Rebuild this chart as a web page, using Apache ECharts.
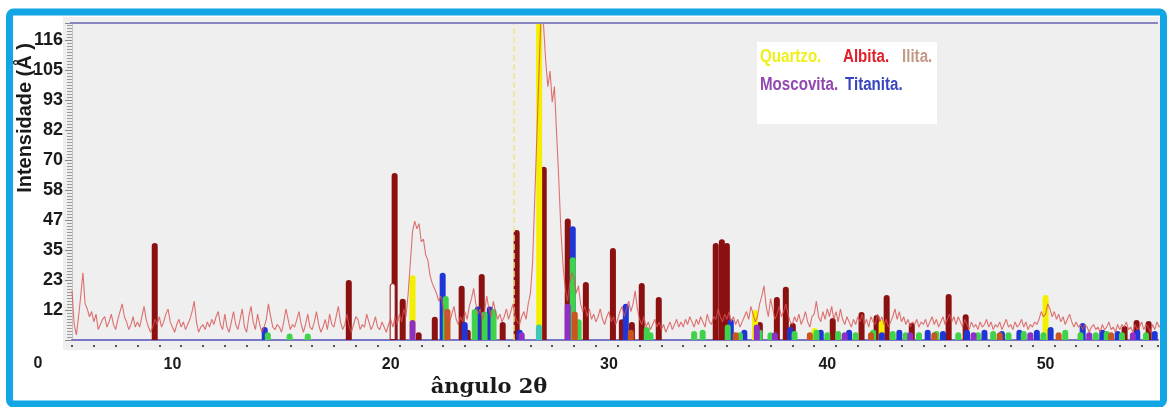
<!DOCTYPE html>
<html>
<head>
<meta charset="utf-8">
<script src="https://cdn.jsdelivr.net/npm/echarts@6/dist/echarts.min.js"></script>
<style>
html,body{margin:0;padding:0;background:#ffffff;}
#chart{width:1170px;height:407px;}
</style>
</head>
<body>
<div id="chart"></div>
<script>
// ---- Data ----
// Diffraction pattern (red line): intensities every 0.1 degree starting at 5.4
const angleStart = 5.4;
const angleStep = 0.1;
const intensity = [
 19,6,2,9,17,26,14,12,9,11,
 7,10,4,6,8,9,5,7,10,6,
 4,8,11,14,9,7,4,6,9,5,
 7,5,9,13,8,5,3,5,8,6,
 9,5,7,10,12,7,5,3,6,8,
 5,7,4,6,8,11,15,7,3,5,
 6,4,7,5,8,6,9,11,6,4,
 10,5,3,7,11,6,4,8,12,5,
 3,9,13,7,4,10,6,3,5,8,
 14,9,5,4,6,5,3,7,12,8,
 4,6,5,8,11,6,3,6,10,5,
 4,7,11,6,3,5,8,4,10,6,
 5,9,13,7,4,6,10,5,3,6,
 9,8,4,6,5,10,7,4,6,9,
 5,4,7,5,3,6,8,5,9,6,
 10,7,12,9,18,30,42,46,43,45,
 38,39,33,31,25,22,20,18,15,17,
 13,9,11,7,10,13,8,6,9,7,
 11,8,13,16,20,14,10,12,8,11,
 17,12,9,15,11,8,10,7,9,12,
 8,11,14,9,7,6,9,11,8,14,
 18,30,55,80,105,130,122,108,98,104,
 92,98,80,62,42,28,20,15,22,26,
 24,18,21,14,11,13,9,12,8,10,
 7,9,12,8,6,9,11,7,9,6,
 8,11,13,9,12,15,11,14,19,12,
 8,6,9,5,7,4,6,8,5,7,
 4,6,3,5,7,4,6,8,5,7,
 5,8,6,9,7,5,8,6,9,7,
 5,10,7,6,9,8,12,9,7,10,
 8,11,7,9,6,8,5,7,9,11,
 8,13,10,7,9,14,17,21,13,9,
 16,12,8,10,13,9,11,14,10,7,
 6,9,7,10,6,8,11,7,5,9,
 10,15,9,7,11,8,12,9,13,8,
 11,7,12,8,6,9,7,5,8,6,
 9,7,10,6,8,5,9,7,6,10,
 7,9,6,8,5,7,9,12,8,11,
 7,9,6,8,5,7,6,8,5,7,
 6,8,5,7,9,6,8,5,7,9,
 6,8,10,7,9,6,9,7,5,8,
 6,4,7,5,6,4,7,5,6,8,
 5,7,4,6,5,7,4,6,8,5,
 6,4,7,5,6,8,5,7,4,6,
 5,7,6,8,11,9,10,14,12,9,
 11,8,10,7,9,6,8,10,7,5,
 7,5,6,4,6,5,3,5,6,4,
 5,3,6,4,5,7,4,5,3,6,
 4,6,5,7,4,5,3,6,4,5,
 7,4,6,5,3,6,4,7,5,6
];

// Stick patterns (phase reference peaks)
const albitaAngle = [9.19,18.08,20.18,20.55,21.28,22.02,23.25,23.53,24.17,25.13,25.77,27.01,28.11,28.94,30.18,30.59,31.05,31.5,32.28,34.89,35.17,35.4,36.77,36.91,37.69,38.1,38.42,40.25,41.57,42.26,42.72,43.87,45.56,46.34,53.62,54.17,54.72];
const albitaInt   = [37.5,23.2,64.6,16,3,9,21,4,25.5,7,42.5,67,47,22.4,35.6,8,7,22,16.6,37.5,39,37.5,6,7,16.6,20.6,6.6,8.5,10.8,9.7,17.4,6.6,17.8,10,5.4,7.7,7.3];
const hollowAngle = [20.09];
const hollowInt   = [22];
const quartzoAngle = [21.0,26.8,36.69,39.42,42.49,50.0];
const quartzoInt   = [25,150,11.6,4.6,7.7,17.4];
const titanitaAngle = [14.23,22.38,23.39,23.99,24.54,25.91,28.34,30.77,35.58,36.2,38.3,39.7,41.0,42.5,43.3,44.6,45.3,46.4,47.2,48.0,48.8,49.6,50.23,51.7,52.6,53.3,54.2,55.0];
const titanitaInt   = [5,26,7,13,13,4,44,14,8,4,5,4,4,3,4,4,3.5,4,4,3.5,4,4,5,6.6,4,3.5,4,3.5];
const greenAngle = [14.37,15.37,16.2,22.52,23.85,24.3,24.71,28.34,28.61,31.73,31.9,33.9,34.29,35.44,36.0,36.9,37.4,38.5,39.5,40.0,40.5,41.3,42.1,43.0,43.6,44.2,45.0,46.0,46.9,47.6,48.3,49.0,49.9,50.9,51.6,52.3,52.8,53.5,54.6];
const greenInt   = [3,2.5,2.5,17,12,11,12,32,8,5,3,3.5,4,6,3,4,3,3.5,4,3,3.5,3,4,3.5,3,3,3.5,3,3,3.5,3,3.5,3,4,3,3,3.5,3,3];
const moscovitaAngle = [21.0,26.0,28.11,36.77,37.6,40.8,43.8,46.7,49.3,52.0,54.0];
const moscovitaInt   = [7.7,3,14,6,3,3,3,3,3,3,3];
const ilitaAngle = [22.6,28.43,31.0,35.8,39.2,42.0,44.9,47.9,50.6,53.0];
const ilitaInt   = [12,11,4,3,3,3,3,3,3,3];
const tealAngle = [26.79];
const tealInt   = [6];
const dashedAngle = 25.63;

// Axis tick labels
const yTickLabels = ['12','23','35','47','58','70','82','93','105','116'];
const xTickLabels = ['10','20','30','40','50'];

// ---- Build chart ----
const pairs = (xs, ys) => xs.map((x, i) => [x, ys[i]]);
const lineData = intensity.map((v, i) => [+(angleStart + i * angleStep).toFixed(2), v]);

const sans = "'Liberation Sans',Arial,sans-serif";

function barSeries(name, data, color, extra) {
  return Object.assign({
    name: name,
    type: 'bar',
    data: data,
    barWidth: 6,
    barGap: '-100%',
    clip: true,
    itemStyle: {color: color, borderRadius: [3, 3, 0, 0]},
    silent: true
  }, extra || {});
}

function legendText(x, y, text, color) {
  return {type: 'text', z: 51, x: x, y: y, scaleX: 0.84, silent: true,
    style: {text: text, fill: color, font: "bold 18px " + sans, textAlign: 'left', textVerticalAlign: 'middle'}};
}

const chart = echarts.init(document.getElementById('chart'), null, {renderer: 'canvas'});
chart.setOption({
  animation: false,
  backgroundColor: '#ffffff',
  grid: {left: 72, right: 12, top: 23, bottom: 67, containLabel: false},
  xAxis: [
    {
      type: 'value', min: 5.4, max: 55.15, splitNumber: 5,
      axisLine: {show: true, lineStyle: {color: '#7a78c4', width: 2}},
      axisTick: {show: false},
      splitLine: {show: false},
      axisLabel: {
        show: true, margin: 17, color: '#1a1a1a', fontSize: 16, fontWeight: 'bold',
        fontFamily: sans, showMinLabel: false, showMaxLabel: false,
        formatter: v => {
          const k = Math.round(v / 10) - 1;
          return (Math.abs(v - Math.round(v / 10) * 10) < 1e-6 && k >= 0 && k < xTickLabels.length) ? xTickLabels[k] : '';
        }
      }
    },
    {
      type: 'value', min: 5.4, max: 55.15, interval: 1, position: 'bottom', offset: 5,
      axisLine: {show: false},
      axisTick: {show: true, length: 2, lineStyle: {color: '#555', width: 2}},
      axisLabel: {show: false},
      splitLine: {show: false}
    }
  ],
  yAxis: {
    type: 'value', min: 0, max: 122.6, interval: 11.6,
    axisLine: {show: true, lineStyle: {color: '#c4c4c4', width: 1}},
    axisTick: {show: true, length: 7, lineStyle: {color: '#888'}},
    minorTick: {show: true, splitNumber: 10, length: 5, lineStyle: {color: '#999'}},
    splitLine: {show: false},
    axisLabel: {
      margin: 9, color: '#1a1a1a', fontSize: 18, fontWeight: 'bold', fontFamily: sans,
      showMaxLabel: false,
      formatter: v => {
        const k = Math.round(v / 11.6) - 1;
        return (k >= 0 && k < yTickLabels.length) ? yTickLabels[k] : '';
      }
    }
  },
  series: [
    barSeries('Albita', pairs(albitaAngle, albitaInt), '#8b1111', {
      markLine: {
        silent: true, symbol: 'none', label: {show: false},
        lineStyle: {color: '#efe48a', type: 'dashed', width: 1.5},
        data: [{xAxis: dashedAngle}]
      }
    }),
    barSeries('hollow', pairs(hollowAngle, hollowInt), '#f6f6f6', {
      itemStyle: {color: '#f6f6f6', borderColor: '#8b1111', borderWidth: 1, borderRadius: [3, 3, 0, 0]}
    }),
    barSeries('Quartzo', pairs(quartzoAngle, quartzoInt), '#f3ef00'),
    barSeries('Titanita', pairs(titanitaAngle, titanitaInt), '#1f35d6'),
    barSeries('Verde', pairs(greenAngle, greenInt), '#3fd24a'),
    barSeries('Moscovita', pairs(moscovitaAngle, moscovitaInt), '#8e2fc8'),
    barSeries('Ilita', pairs(ilitaAngle, ilitaInt), '#c8561e'),
    barSeries('teal', pairs(tealAngle, tealInt), '#3cc8b4'),
    {
      name: 'Padrão', type: 'line', data: lineData, showSymbol: false, symbol: 'none',
      clip: true, z: 5, silent: true,
      lineStyle: {color: 'rgba(218,80,80,0.8)', width: 1.1}
    }
  ],
  graphic: [
    {type: 'rect', z: -10, silent: true, shape: {x: 63, y: 17, width: 1097, height: 333}, style: {fill: '#efefef'}},
    {type: 'line', z: 10, silent: true, shape: {x1: 70, y1: 23, x2: 1158, y2: 23}, style: {stroke: '#8886c0', lineWidth: 2}},
    {type: 'rect', z: 50, silent: true, shape: {x: 757, y: 42, width: 180, height: 82}, style: {fill: '#ffffff'}},
    legendText(760, 57, 'Quartzo.', '#efef1a'),
    legendText(843, 57, 'Albita.', '#e0202a'),
    legendText(902, 57, 'Ilita.', '#c29b86'),
    legendText(760, 85, 'Moscovita.', '#9048b0'),
    legendText(845, 85, 'Titanita.', '#3844c0'),
    {type: 'text', z: 20, x: 25, y: 118, rotation: Math.PI / 2, scaleX: 0.95, silent: true,
      style: {text: 'Intensidade (Å )', fill: '#1a1a1a', font: "bold 21px " + sans, textAlign: 'center', textVerticalAlign: 'middle'}},
    {type: 'text', z: 20, x: 38, y: 364, silent: true,
      style: {text: '0', fill: '#1a1a1a', font: "bold 16px " + sans, textAlign: 'center', textVerticalAlign: 'middle'}},
    {type: 'text', z: 20, x: 489, y: 388, silent: true,
      style: {text: 'ângulo 2θ', fill: '#1a1a1a', font: "bold 21px 'DejaVu Serif', serif", textAlign: 'center', textVerticalAlign: 'middle'}},
    {type: 'rect', z: 100, silent: true, shape: {x: 9.5, y: 12, width: 1154, height: 392, r: 4}, style: {fill: 'none', stroke: '#12a6e4', lineWidth: 7}}
  ]
});
</script>
</body>
</html>
